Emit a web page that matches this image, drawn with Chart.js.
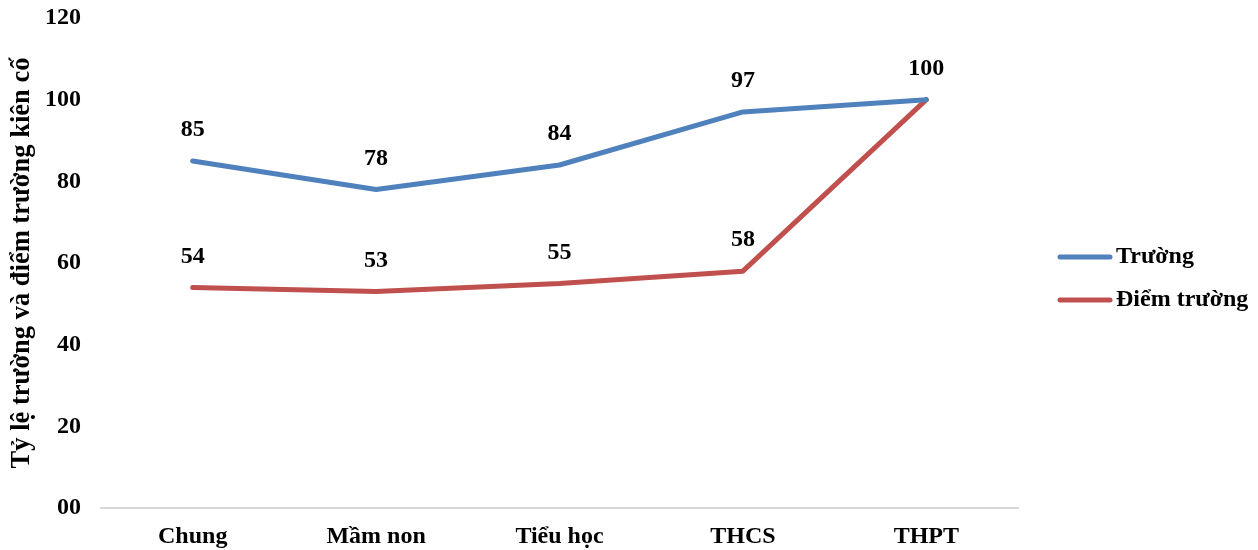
<!DOCTYPE html>
<html>
<head>
<meta charset="utf-8">
<script src="https://cdn.jsdelivr.net/npm/chart.js@4/dist/chart.umd.min.js"></script>
<style>
  html, body { margin: 0; padding: 0; background: #fff; }
  #wrap { width: 1258px; height: 550px; position: relative; }
</style>
</head>
<body>
<div id="wrap"><canvas id="c" width="1258" height="550"></canvas></div>
<script>
// School levels
const categories = ['Chung', 'Mầm non', 'Tiểu học', 'THCS', 'THPT'];
// Share of permanent (kiên cố) schools and satellite sites, %
const truong = [85, 78, 84, 97, 100];
const diemTruong = [54, 53, 55, 58, 100];
const seriesNames = ['Trường', 'Điểm trường'];
const yTicks = [0, 20, 40, 60, 80, 100, 120];
const yTickLabels = ['00', '20', '40', '60', '80', '100', '120'];

const FONT = '"Liberation Serif", "Times New Roman", serif';
const BLUE = '#4F81BD';
const RED = '#C0504D';

// Value labels above each point
const valueLabels = {
  id: 'valueLabels',
  afterDatasetsDraw(chart) {
    const ctx = chart.ctx;
    ctx.save();
    ctx.font = 'bold 24px ' + FONT;
    ctx.fillStyle = '#000';
    ctx.textAlign = 'center';
    ctx.textBaseline = 'middle';
    chart.data.datasets.forEach((ds, i) => {
      const meta = chart.getDatasetMeta(i);
      meta.data.forEach((pt, j) => {
        // shared top point is labelled once
        if (i === 1 && ds.data[j] === chart.data.datasets[0].data[j]) return;
        ctx.fillText(String(ds.data[j]), pt.x, pt.y - 31);
      });
    });
    ctx.restore();
  }
};

// Legend on the right
const sideLegend = {
  id: 'sideLegend',
  afterDraw(chart) {
    const ctx = chart.ctx;
    ctx.save();
    ctx.font = 'bold 24px ' + FONT;
    ctx.textBaseline = 'middle';
    ctx.textAlign = 'left';
    const rows = [257, 300];
    chart.data.datasets.forEach((ds, i) => {
      const y = rows[i];
      ctx.strokeStyle = ds.borderColor;
      ctx.lineWidth = 5;
      ctx.lineCap = 'round';
      ctx.beginPath();
      ctx.moveTo(1060, y);
      ctx.lineTo(1110, y);
      ctx.stroke();
      ctx.fillStyle = '#000';
      ctx.fillText(ds.label, 1116, y);
    });
    ctx.restore();
  }
};

new Chart(document.getElementById('c'), {
  type: 'line',
  data: {
    labels: categories,
    datasets: [
      { label: seriesNames[0], data: truong, borderColor: BLUE, backgroundColor: BLUE },
      { label: seriesNames[1], data: diemTruong, borderColor: RED, backgroundColor: RED }
    ]
  },
  options: {
    responsive: false,
    animation: false,
    devicePixelRatio: 1,
    layout: { padding: { top: 18, right: 240, bottom: 0, left: 0 } },
    elements: {
      line: { borderWidth: 5, tension: 0, borderCapStyle: 'round', borderJoinStyle: 'round' },
      point: { radius: 0, hoverRadius: 0 }
    },
    plugins: { legend: { display: false }, tooltip: { enabled: false } },
    scales: {
      x: {
        offset: true,
        grid: { display: false, drawTicks: false },
        border: { display: true, color: '#D9D9D9', width: 2 },
        ticks: { color: '#000', font: { family: FONT, size: 24, weight: 'bold' }, padding: 14, maxRotation: 0 },
        afterFit(s) { s.height = 42; s.paddingLeft = 0; s.paddingRight = 0; }
      },
      y: {
        min: 0, max: 120,
        afterBuildTicks(s) { s.ticks = yTicks.map(v => ({ value: v })); },
        grid: { display: false, drawTicks: false },
        border: { display: false },
        ticks: {
          color: '#000', font: { family: FONT, size: 24, weight: 'bold' }, padding: 20,
          callback(v) { const k = yTicks.indexOf(v); return k >= 0 ? yTickLabels[k] : ''; }
        },
        title: {
          display: true, text: 'Tỷ lệ trường và điểm trường kiên cố', color: '#000',
          font: { family: FONT, size: 26.5, weight: 'bold' }, padding: { top: 6, bottom: 0 }
        },
        afterFit(s) { s.width = 101; s.paddingTop = 0; s.paddingBottom = 0; }
      }
    }
  },
  plugins: [valueLabels, sideLegend]
});
</script>
</body>
</html>
